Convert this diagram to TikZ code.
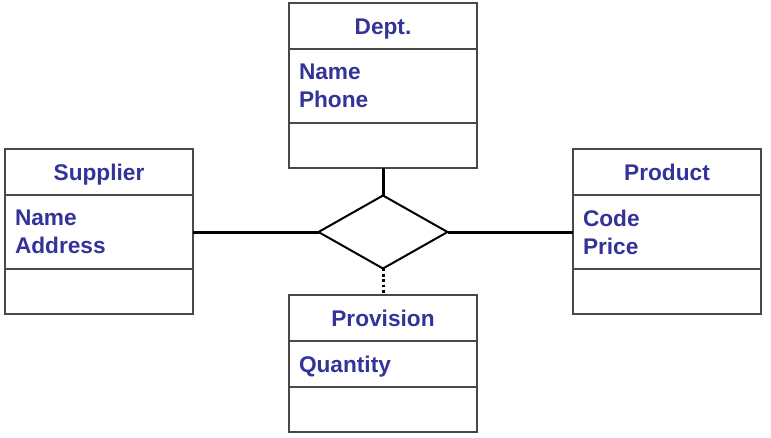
\documentclass[tikz,border=0pt]{standalone}
\usepackage{fontspec}
\setmainfont{Liberation Sans}
\usepackage{tikz}
\usetikzlibrary{positioning,shapes.geometric}
\definecolor{classblue}{HTML}{333399}
\definecolor{boxgray}{HTML}{484848}
\tikzset{
  part/.style={draw=boxgray, line width=1.5pt, outer sep=0pt, inner sep=0pt,
    minimum width=\wbox pt, text=classblue,
    font=\bfseries\fontsize{17}{21}\selectfont},
  headpart/.style={part, minimum height=\htitle pt, text height=12.2pt, text depth=0pt},
  attrpart/.style={part, minimum height=\hattr pt, align=left, text width=\wbox pt-15pt},
  oppart/.style={part, minimum height=\hop pt},
  link/.style={line width=2.25pt, black}
}
\begin{document}
\begin{tikzpicture}[x=0.75pt, y=-0.75pt]
      \pgfmathsetmacro{\wbox}{141}
      \pgfmathsetmacro{\htitle}{34.5}
      \pgfmathsetmacro{\hattr}{55.5}
      \pgfmathsetmacro{\hop}{34}
      \useasboundingbox (0,0) rectangle (771,437);

      \node[headpart, anchor=north west] (dept) at (289,3) {Dept.};
      \node[attrpart, below=0pt of dept] (dept-attr) {Name\\Phone};
      \node[oppart, below=0pt of dept-attr] (dept-op) {};

      \node[headpart, anchor=north west] (supp) at (5,149) {Supplier};
      \node[attrpart, below=0pt of supp] (supp-attr) {Name\\Address};
      \node[oppart, below=0pt of supp-attr] (supp-op) {};

      \node[headpart, anchor=north west] (prod) at (573,149) {Product};
      \node[attrpart, below=0pt of prod] (prod-attr) {Code\\Price};
      \node[oppart, below=0pt of prod-attr] (prod-op) {};

      \node[headpart, anchor=north west] (prov) at (289,295) {Provision};
      \node[attrpart, minimum height=\htitle pt, text height=12.2pt, text depth=0pt, below=0pt of prov] (prov-attr) {Quantity};
      \node[oppart, below=0pt of prov-attr] (prov-op) {};

      \node[diamond, draw, line width=1.5pt, inner sep=0pt, outer sep=0pt,
        minimum width=96.75pt, minimum height=54.75pt] (rel) at (383,232) {};

      \draw[link] (dept-op.south) -- (rel.north);
      \draw[link] (supp-attr.east) -- (rel.west);
      \draw[link] (rel.east) -- (prod-attr.west);
      \draw[link, dash pattern=on 2pt off 2pt] (rel.south) -- (prov.north);
    \end{tikzpicture}
\end{document}
